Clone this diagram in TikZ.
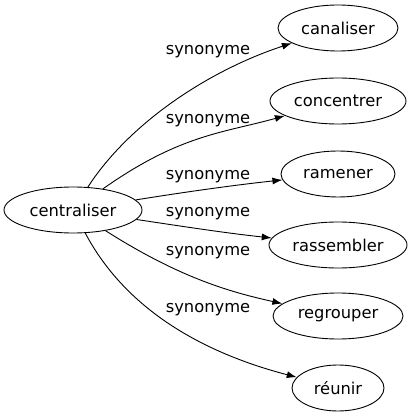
\documentclass[tikz,border=0pt]{standalone}
\usepackage{fontspec}
\setmainfont{DejaVu Sans}
\usetikzlibrary{arrows.meta,shapes.geometric}
\begin{document}
\begin{tikzpicture}[x=1pt,y=-1pt,
  word/.style={draw, ellipse, inner sep=0pt, minimum height=46pt, line width=0.9pt, font=\fontsize{16.3}{19}\selectfont},
  rel/.style={draw, line width=0.9pt, -{Latex[length=10pt,width=7pt]}},
  lab/.style={inner sep=0pt, font=\fontsize{16.3}{19}\selectfont}]
\useasboundingbox (0,0) rectangle (413,419);
\node[word, minimum width=138pt] (c) at (73,210) {centraliser};
\node[word, minimum width=120pt] (n1) at (338,28) {canaliser};
\node[word, minimum width=136pt] (n2) at (338,101) {concentrer};
\node[word, minimum width=114pt] (n3) at (338,174) {ramener};
\node[word, minimum width=138pt] (n4) at (338,245) {rassembler};
\node[word, minimum width=130pt] (n5) at (338,316) {regrouper};
\node[word, minimum width=92pt] (n6) at (338,388) {réunir};
\draw[rel] (c) .. controls (130,122) and (210,70) .. (n1);
\draw[rel] (c) .. controls (180,134.5) and (223,133) .. (n2);
\draw[rel] (c) .. controls (185,192) and (235,185) .. (n3);
\draw[rel] (c) .. controls (180,226) and (225,233) .. (n4);
\draw[rel] (c) .. controls (180,278) and (230,292) .. (n5);
\draw[rel] (c) .. controls (125,308) and (200,352) .. (n6);
\node[lab] (l1) at (208,52) {synonyme};
\node[lab] (l2) at (208,121) {synonyme};
\node[lab] (l3) at (208,177) {synonyme};
\node[lab] (l4) at (208,214) {synonyme};
\node[lab] (l5) at (208,253) {synonyme};
\node[lab] (l6) at (208,310) {synonyme};
\end{tikzpicture}
\end{document}
